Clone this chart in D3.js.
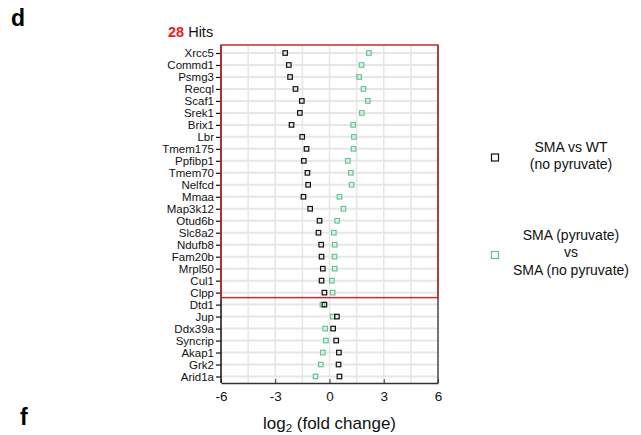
<!DOCTYPE html>
<html>
<head>
<meta charset="utf-8">
<script src="https://cdn.jsdelivr.net/npm/d3@7.9.0/dist/d3.min.js"></script>
<style>
  body { margin: 0; background: #fff; }
  svg { font-family: "Liberation Sans", Arial, Helvetica, sans-serif; }
</style>
</head>
<body>
<svg id="chart" width="641" height="435"></svg>
<script>
const genes = ['Xrcc5', 'Commd1', 'Psmg3', 'Recql', 'Scaf1', 'Srek1', 'Brix1', 'Lbr',
  'Tmem175', 'Ppfibp1', 'Tmem70', 'Nelfcd', 'Mmaa', 'Map3k12', 'Otud6b', 'Slc8a2',
  'Ndufb8', 'Fam20b', 'Mrpl50', 'Cul1', 'Clpp', 'Dtd1', 'Jup', 'Ddx39a', 'Syncrip',
  'Akap1', 'Grk2', 'Arid1a'];

// SMA vs WT (no pyruvate)
const smaVsWt = [-2.45, -2.25, -2.18, -1.88, -1.53, -1.64, -2.10, -1.51,
  -1.27, -1.42, -1.22, -1.18, -1.44, -1.07, -0.55, -0.61,
  -0.46, -0.44, -0.37, -0.44, -0.28, -0.28, 0.41, 0.20, 0.37,
  0.52, 0.50, 0.55];

// SMA (pyruvate) vs SMA (no pyruvate)
const pyruvate = [2.18, 1.77, 1.64, 1.88, 2.12, 1.79, 1.31, 1.35,
  1.33, 1.01, 1.18, 1.22, 0.55, 0.77, 0.42, 0.24,
  0.29, 0.28, 0.29, 0.13, 0.18, -0.39, 0.18, -0.24, -0.20,
  -0.37, -0.48, -0.77];

const hits = 21; // rows inside the red box
const hitLabel = '28';
const xTicks = [-6, -3, 0, 3, 6];
const xGrid = [-4.5, -3, -1.5, 0, 1.5, 3, 4.5];

const svg = d3.select('#chart');
const pLeft = 221, pRight = 438, pTop = 45, pBottom = 383;

const x = d3.scaleLinear().domain([-6, 6]).range([pLeft, pRight]);
const y = d3.scalePoint().domain(genes).range([53, 376.5]);

// gridlines
svg.append('g').selectAll('line').data(genes).join('line')
  .attr('x1', pLeft).attr('x2', pRight)
  .attr('y1', d => y(d)).attr('y2', d => y(d))
  .attr('stroke', '#e6e6e6').attr('stroke-width', 2);
svg.append('g').selectAll('line').data(xGrid).join('line')
  .attr('x1', d => x(d)).attr('x2', d => x(d))
  .attr('y1', pTop).attr('y2', pBottom)
  .attr('stroke', '#e6e6e6').attr('stroke-width', 1.5);

// frame
svg.append('line').attr('x1', pRight).attr('x2', pRight).attr('y1', pTop).attr('y2', pBottom)
  .attr('stroke', '#444').attr('stroke-width', 1.5);

// x axis
const xAxis = svg.append('g').attr('transform', `translate(0,${pBottom})`)
  .call(d3.axisBottom(x).tickValues(xTicks).tickFormat(d => String(d))
    .tickSizeInner(-4).tickSizeOuter(0).tickPadding(8));
xAxis.select('.domain').attr('stroke', '#333').attr('stroke-width', 1.5);
xAxis.selectAll('.tick line').attr('stroke', '#333');
xAxis.selectAll('text').attr('font-size', 13.5).attr('fill', '#111').attr('font-family', null);

// y axis
const yAxis = svg.append('g').attr('transform', `translate(${pLeft},0)`)
  .call(d3.axisLeft(y).tickSize(5).tickSizeOuter(0).tickPadding(2));
yAxis.select('.domain').attr('stroke', '#111').attr('stroke-width', 1.5)
  .attr('d', `M0,${pTop}V${pBottom}`);
yAxis.selectAll('.tick line').attr('stroke', '#111').attr('stroke-width', 1.2);
yAxis.selectAll('text').attr('font-size', 11.5).attr('fill', '#111').attr('font-family', null);

// red hits box
const boxBottom = (y(genes[hits - 1]) + y(genes[hits])) / 2 - 1;
svg.append('rect')
  .attr('x', pLeft).attr('y', pTop)
  .attr('width', pRight - pLeft).attr('height', boxBottom - pTop)
  .attr('fill', 'none').attr('stroke', '#cc2b2b').attr('stroke-width', 1.5);

// markers
const s = 4.5;
svg.append('g').selectAll('rect').data(pyruvate).join('rect')
  .attr('x', d => x(d) - s / 2).attr('y', (d, i) => y(genes[i]) - s / 2)
  .attr('width', s).attr('height', s)
  .attr('fill', 'none').attr('stroke', '#5fc690').attr('stroke-width', 1.2);
svg.append('g').selectAll('rect').data(smaVsWt).join('rect')
  .attr('x', d => x(d) - s / 2).attr('y', (d, i) => y(genes[i]) - s / 2)
  .attr('width', s).attr('height', s)
  .attr('fill', 'none').attr('stroke', '#111').attr('stroke-width', 1.2);

// titles
const title = svg.append('text').attr('x', 168).attr('y', 37).attr('font-size', 14.5);
title.append('tspan').attr('fill', '#ee1c1c').attr('font-weight', 'bold').text(hitLabel);
title.append('tspan').attr('fill', '#111').text(' Hits');

svg.append('text').attr('x', 11).attr('y', 26).attr('font-size', 23).attr('font-weight', 'bold').text('d');
svg.append('text').attr('x', 20).attr('y', 425).attr('font-size', 23).attr('font-weight', 'bold').text('f');

const xt = svg.append('text').attr('x', (pLeft + pRight) / 2).attr('y', 429)
  .attr('text-anchor', 'middle').attr('font-size', 17).attr('fill', '#111');
xt.append('tspan').text('log');
xt.append('tspan').attr('font-size', 11.5).attr('dy', 3).text('2');
xt.append('tspan').attr('dy', -3).text(' (fold change)');

// legend
const legend = [
  { color: '#111', sy: 157.5, lines: ['SMA vs WT', '(no pyruvate)'], ty: 151.5 },
  { color: '#5fc690', sy: 255, lines: ['SMA (pyruvate)', 'vs', 'SMA (no pyruvate)'], ty: 239.5 }
];
legend.forEach(l => {
  svg.append('rect').attr('x', 495 - 3.5).attr('y', l.sy - 3.5).attr('width', 7).attr('height', 7)
    .attr('fill', 'none').attr('stroke', l.color).attr('stroke-width', 1.2);
  l.lines.forEach((t, i) => {
    svg.append('text').attr('x', 571).attr('y', l.ty + i * 17.5)
      .attr('text-anchor', 'middle').attr('font-size', 14).attr('fill', '#111').text(t);
  });
});
</script>
</body>
</html>
